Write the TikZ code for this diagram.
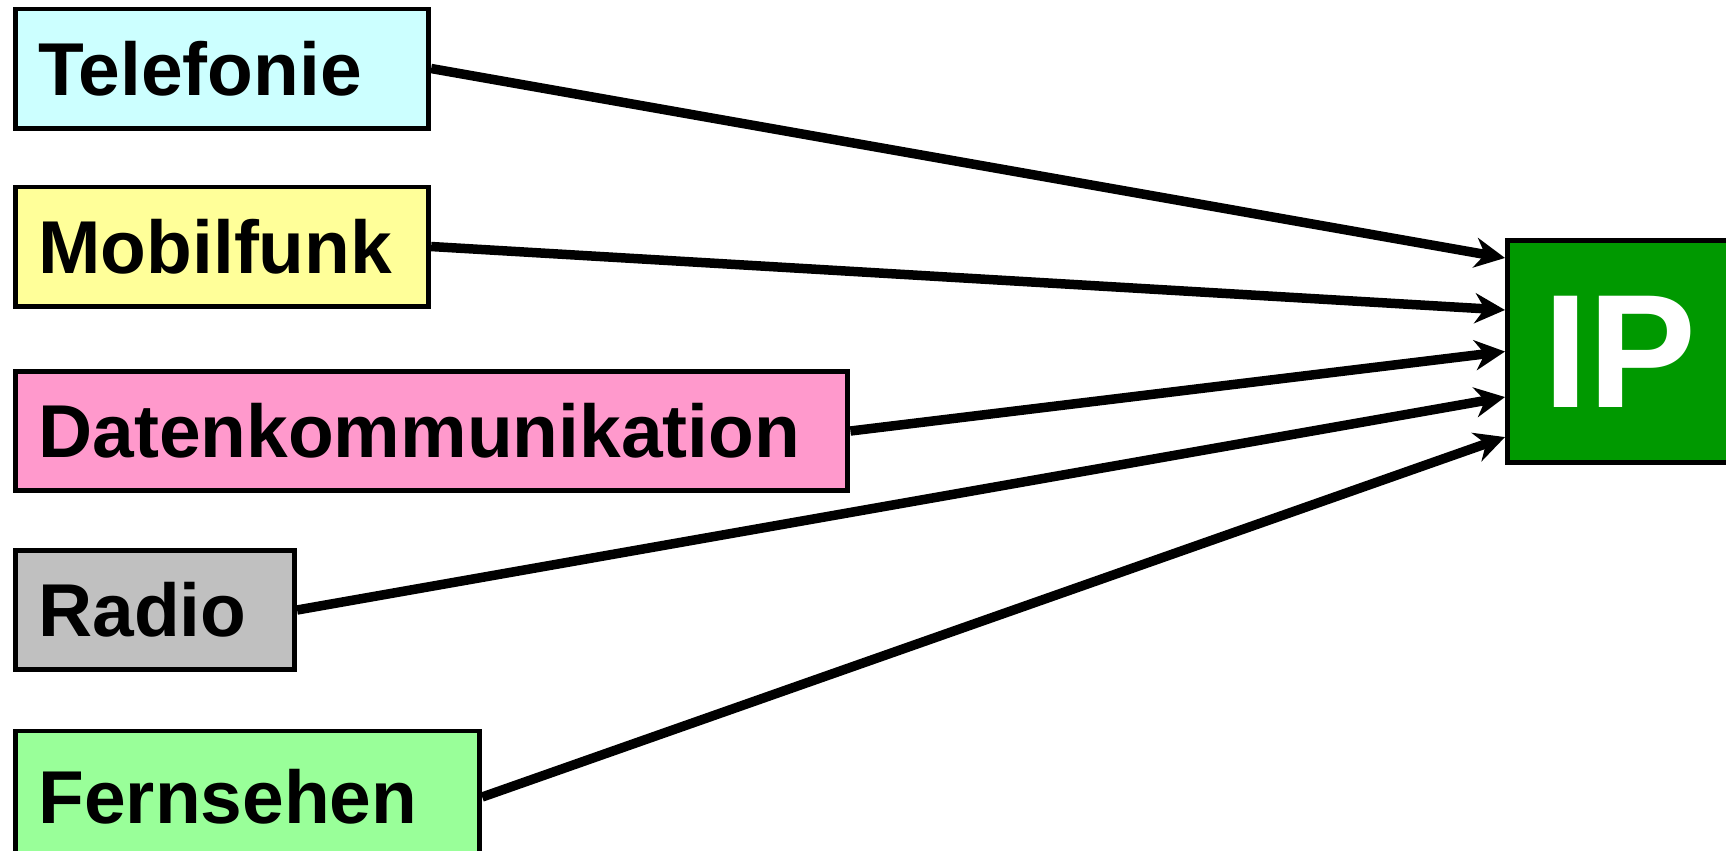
\documentclass[tikz,border=0pt]{standalone}
\usepackage{fontspec}
\setmainfont{Liberation Sans}
\usetikzlibrary{arrows.meta}
\definecolor{telcol}{HTML}{CCFFFF}
\definecolor{mobcol}{HTML}{FFFF99}
\definecolor{datcol}{HTML}{FF99CC}
\definecolor{radcol}{HTML}{C0C0C0}
\definecolor{ferncol}{HTML}{99FF99}
\definecolor{ipcol}{HTML}{009900}
\tikzset{
  dienst/.style={draw, line width=1.4pt, anchor=west, inner xsep=0.23cm,
    text width=#1, align=left, minimum height=1.19cm,
    font=\fontsize{21.3}{25}\selectfont\bfseries},
  netz/.style={draw, line width=1.4pt, anchor=west, fill=ipcol, text=white,
    minimum width=2.25cm, minimum height=2.22cm,
    font=\fontsize{46}{50}\selectfont\bfseries}
}
\begin{document}
\begin{tikzpicture}[x=0.01cm, y=-0.01cm]
      \useasboundingbox (0,0) rectangle (1726,850);
      \draw
        (13,68.5) node[dienst=3.67cm, fill=telcol] (tel){Telefonie}
        (13,246.5) node[dienst=3.67cm, fill=mobcol] (mob){Mobilfunk}
        (13,431) node[dienst=7.86cm, fill=datcol] (dat){Datenkommunikation}
        (13,610) node[dienst=2.33cm, fill=radcol] (rad){Radio}
        (13,797) node[dienst=4.18cm, fill=ferncol, minimum height=1.32cm] (fern){Fernsehen}
        (1505,351.5) node[netz] (ip){IP};
      \begin{scope}[-{Stealth[length=0.3cm, width=0.3cm]}, line width=2.7pt]
        \draw (tel.east) to ([yshift=0.935cm]ip.west);
        \draw (mob.east) to ([yshift=0.415cm]ip.west);
        \draw (dat.east) to (ip.west);
        \draw (rad.east) to ([yshift=-0.455cm]ip.west);
        \draw (fern.east) to ([yshift=-0.855cm]ip.west);
      \end{scope}
    \end{tikzpicture}
\end{document}
